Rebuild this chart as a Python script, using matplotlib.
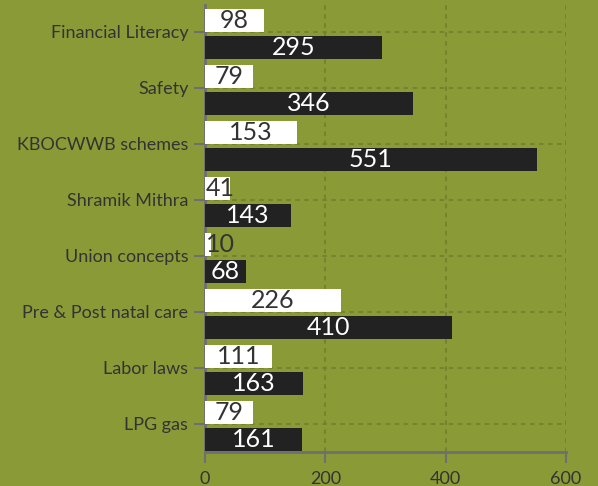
import matplotlib
matplotlib.use('Agg')
import matplotlib.pyplot as plt
import numpy as np

plt.rcParams['font.family'] = ['Lato', 'DejaVu Sans']

categories = ['Financial Literacy', 'Safety', 'KBOCWWB schemes', 'Shramik Mithra',
              'Union concepts', 'Pre & Post natal care', 'Labor laws', 'LPG gas']
white_vals = [98, 79, 153, 41, 10, 226, 111, 79]
black_vals = [295, 346, 551, 143, 68, 410, 163, 161]

BG = '#8a9a36'
DARK = '#222222'
AXC = '#6f6f6f'

fig = plt.figure(figsize=(5.98, 4.86), dpi=100, facecolor=BG)
ax = fig.add_axes([0.3428, 0.070, 0.6037, 0.9197], facecolor=BG)

y = np.arange(len(categories))
h = 0.41
ax.barh(y - 0.21, white_vals, height=h, color='white', zorder=3)
ax.barh(y + 0.28, black_vals, height=h, color=DARK, zorder=3)

for i, v in enumerate(white_vals):
    if v < 50:
        ax.text(1.5, i - 0.21, str(v), ha='left', va='center', fontsize=18, color='#333333', zorder=4)
    else:
        ax.text(v / 2, i - 0.21, str(v), ha='center', va='center', fontsize=18, color='#333333', zorder=4)
for i, v in enumerate(black_vals):
    ax.text(v / 2, i + 0.28, str(v), ha='center', va='center', fontsize=18, color='white', zorder=4)

ax.set_xlim(0, 600)
ax.set_ylim(7.5, -0.48)
ax.set_yticks(y)
ax.set_yticklabels(categories, fontsize=13, color='#333333')
ax.set_xticks([0, 200, 400, 600])
ax.tick_params(axis='x', labelsize=13, labelcolor='#333333', color=AXC, length=8, width=1.5, pad=6)
ax.tick_params(axis='y', color=AXC, length=8, width=1.5, pad=4)

for s in ['top', 'right']:
    ax.spines[s].set_visible(False)
for s in ['left', 'bottom']:
    ax.spines[s].set_color(AXC)
    ax.spines[s].set_linewidth(2)

ax.grid(True, color='#72812c', linestyle=(0, (2.5, 2.5)), linewidth=1.3, zorder=0)
ax.set_axisbelow(True)

fig.savefig('out.png', dpi=100, facecolor=BG)
